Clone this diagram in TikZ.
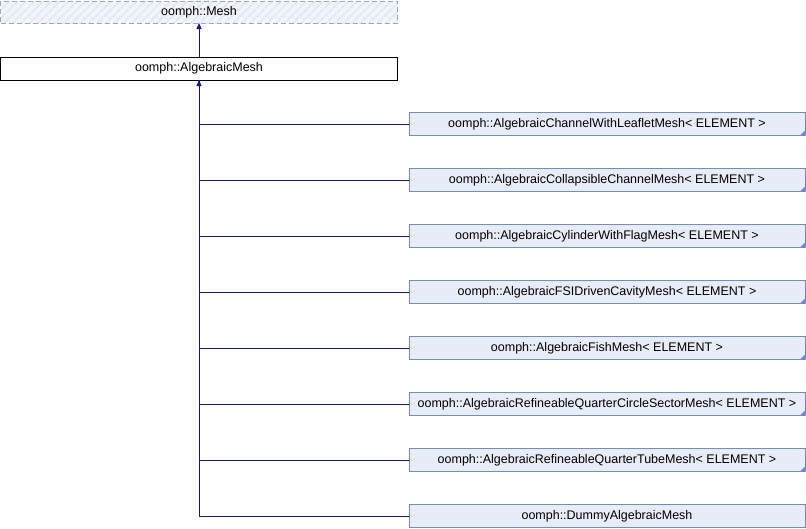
\documentclass[tikz,border=0pt]{standalone}
\usepackage{fontspec}
\setmainfont{Liberation Sans}
\usepackage{tikz}
\usetikzlibrary{arrows.meta,shapes}
\usetikzlibrary{positioning,patterns.meta}
\definecolor{boxfill}{RGB}{232,236,246}
\definecolor{boxline}{RGB}{112,140,200}
\definecolor{edgeblue}{RGB}{25,25,128}
\tikzstyle{block} = [rectangle, draw=boxline, fill=boxfill, line width=1pt,
    minimum width=396pt, minimum height=23pt, inner sep=0pt, outer sep=0pt,
    font=\fontsize{12.5}{15}\selectfont]
\tikzstyle{top} = [block, draw=black, fill=white, minimum width=397pt]
\tikzstyle{ghost} = [block, draw=boxline!75, dash pattern=on 5pt off 3pt,
    minimum width=397pt, minimum height=22pt, fill=none, preaction={fill=boxfill!60},
    pattern={Lines[angle=45,distance=6pt,line width=1.6pt]}, pattern color=boxline!22]
\tikzstyle{templ} = [block, path picture={\fill[boxline]
    (path picture bounding box.south east) -- ++(-5pt,0) -- ++(5pt,5pt) -- cycle;}]
\tikzstyle{edge} = [draw=edgeblue, line width=1pt]

\begin{document}
\begin{tikzpicture}[x=1pt,y=1pt]
  \useasboundingbox (0,0) rectangle (806,-528);
  % Place nodes
  \node [ghost] (mesh) at (199,-12) {oomph::Mesh};
  \node [top, below=34pt of mesh] (algmesh) {oomph::AlgebraicMesh};
  \node [templ] (leaflet) at (607,-124) {oomph::AlgebraicChannelWithLeafletMesh< ELEMENT >};
  \node [templ, below=33pt of leaflet] (collapsible) {oomph::AlgebraicCollapsibleChannelMesh< ELEMENT >};
  \node [templ, below=33pt of collapsible] (cylinder) {oomph::AlgebraicCylinderWithFlagMesh< ELEMENT >};
  \node [templ, below=33pt of cylinder] (cavity) {oomph::AlgebraicFSIDrivenCavityMesh< ELEMENT >};
  \node [templ, below=33pt of cavity] (fish) {oomph::AlgebraicFishMesh< ELEMENT >};
  \node [templ, below=33pt of fish] (sector) {oomph::AlgebraicRefineableQuarterCircleSectorMesh< ELEMENT >};
  \node [templ, below=33pt of sector] (tube) {oomph::AlgebraicRefineableQuarterTubeMesh< ELEMENT >};
  \node [block, below=33pt of tube] (dummy) {oomph::DummyAlgebraicMesh};
  % Draw edges
  \draw[edge,-{Triangle[length=6pt,width=5pt]}] (algmesh.north) -- (mesh.south);
  \foreach \c in {leaflet,collapsible,cylinder,cavity,fish,sector,tube}
    \draw[edge] (\c.west) -| (algmesh.south);
  \draw[edge,-{Triangle[length=6pt,width=5pt]}] (dummy.west) -| (algmesh.south);
\end{tikzpicture}
\end{document}
